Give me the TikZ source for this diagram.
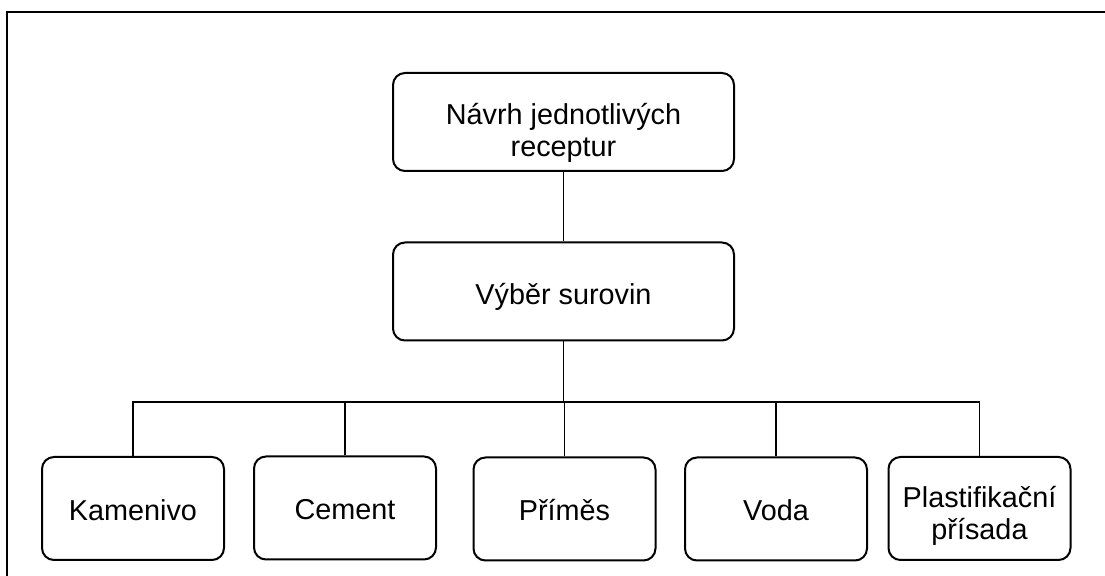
\documentclass[tikz,border=0pt]{standalone}
\usepackage{fontspec}
\setmainfont{Liberation Sans}
\usepackage{tikz}
\newcommand{\lift}[1]{\rule{0pt}{#1}}

\begin{document}
\begin{tikzpicture}[x=0.5pt,y=-0.5pt,
        box/.style={draw, line width=1pt, rounded corners=6pt,
                font=\fontsize{14.4}{16}\selectfont, inner sep=2pt},
        twoline/.style={align=center},
        topbox/.style={box, minimum width=170.5pt, minimum height=49pt},
        partbox/.style={box, minimum width=91pt, minimum height=51.5pt},
        link/.style={line width=0.7pt}]
        \useasboundingbox (0,0) rectangle (1105,576);
        \draw[line width=1pt] (7,620) |- (1140,12);

        \node[topbox, twoline] (N) at (563.5, 122) {\lift{21pt}Návrh jednotlivých\\receptur};
        \node[topbox, text height=14pt, text depth=0.5pt] (S) at (563.5, 291.5) {Výběr surovin};

        \node[partbox, text height=12.5pt, text depth=0.5pt] (K) at (133, 508.5) {Kamenivo};
        \node[partbox, text height=12.5pt, text depth=0.5pt] (C) at (345, 508) {Cement};
        \node[partbox, text height=12.5pt, text depth=0.5pt] (P) at (564.5, 509) {Příměs};
        \node[partbox, text height=12.5pt, text depth=0.5pt] (V) at (776, 509) {Voda};
        \node[partbox, twoline] (L) at (979.5, 508.5) {\lift{17.5pt}Plastifikační\\přísada};

        \coordinate (bar) at (563.5, 402);
        \draw[link] (N) -- (S);
        \draw[link] (S) -- (bar);
        \draw[link] (K.north) |- (bar) -| (L.north);
        \foreach \n in {C, P, V}
                \draw[link] (\n.north) -- (\n.north |- bar);
\end{tikzpicture}
\end{document}
